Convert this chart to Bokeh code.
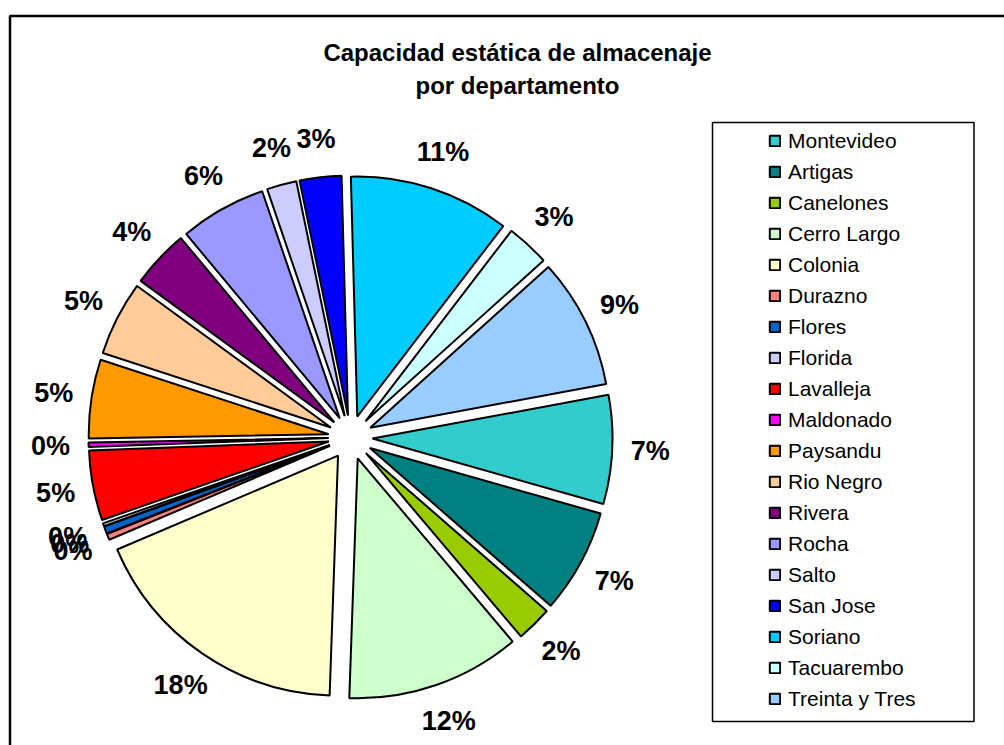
import numpy as np
from bokeh.plotting import figure
from bokeh.models import ColumnDataSource, Range1d, Legend, LegendItem, BoxAnnotation
from bokeh.core.properties import value
from bokeh.embed import file_html
from bokeh.resources import INLINE

TITLE_LINES = ["Capacidad estática de almacenaje", "por departamento"]

departments = ["Montevideo", "Artigas", "Canelones", "Cerro Largo", "Colonia",
               "Durazno", "Flores", "Florida", "Lavalleja", "Maldonado",
               "Paysandu", "Rio Negro", "Rivera", "Rocha", "Salto",
               "San Jose", "Soriano", "Tacuarembo", "Treinta y Tres"]

# share of static storage capacity (%)
shares = [7.3, 7.0, 2.4, 11.7, 18.0,
          0.4, 0.49, 0.2, 4.7, 0.3,
          5.3, 5.0, 3.9, 5.8, 2.0,
          2.8, 10.8, 2.9, 8.75]

colors = ["#33CCCC", "#008080", "#99CC00", "#CCFFCC", "#FFFFCC",
          "#FF8080", "#0066CC", "#CCCCFF", "#FF0000", "#FF00FF",
          "#FF9900", "#FFCC99", "#800080", "#9999FF", "#CCCCFF",
          "#0000FF", "#00CCFF", "#CCFFFF", "#99CCFF"]

FONT = "Liberation Sans"
W, H = 1004, 745

p = figure(width=W, height=H, x_range=Range1d(0, W), y_range=Range1d(0, H),
           output_backend="svg", toolbar_location=None, min_border=0)
p.axis.visible = False
p.grid.visible = False
p.outline_line_color = None
p.background_fill_color = "white"
p.border_fill_color = "white"

# geometry
cx, cy = 350, 308
R = 240
explode = 22
label_r = 300
start_deg = -10.5  # screen angle (clockwise from east) of first slice edge

v = np.array(shares, dtype=float)
frac = v / v.sum()
cum = np.concatenate([[0.0], np.cumsum(frac)]) * 360.0
a0 = start_deg + cum[:-1]
a1 = start_deg + cum[1:]
mid = (a0 + a1) / 2.0

m_start = np.radians(-a1)
m_end = np.radians(-a0)
m_mid = np.radians(-mid)

src = ColumnDataSource(dict(
    x=cx + explode * np.cos(m_mid),
    y=cy + explode * np.sin(m_mid),
    start=m_start, end=m_end,
    color=colors, name=departments,
    lx=cx + label_r * np.cos(m_mid),
    ly=cy + label_r * np.sin(m_mid),
    lab=["%d%%" % int(round(f * 100)) for f in frac],
))

wr = p.wedge(x="x", y="y", radius=R, start_angle="start", end_angle="end",
             direction="anticlock", fill_color="color", line_color="black",
             line_width=2, source=src)

p.text(x="lx", y="ly", text="lab", source=src, text_align="center",
       text_baseline="middle", text_font=value(FONT), text_font_style="bold",
       text_font_size="27px", text_color="black")

# title
tsrc = ColumnDataSource(dict(x=[517, 517], y=[693, 660], t=TITLE_LINES))
p.text(x="x", y="y", text="t", source=tsrc, text_align="center",
       text_baseline="middle", text_font=value(FONT), text_font_style="bold",
       text_font_size="24px", text_color="black")

# outer chart border (continues beyond the visible area)
p.add_layout(BoxAnnotation(left=9.5, right=1200, top=729.5, bottom=-200,
                           fill_alpha=0, line_color="black", line_alpha=1,
                           line_width=2.5))

# legend box
p.add_layout(BoxAnnotation(left=712, right=973.5, top=623, bottom=24,
                           fill_color="white", fill_alpha=1,
                           line_color="black", line_alpha=1,
                           line_width=1.5, level="underlay"))

items = [LegendItem(label=n, renderers=[wr], index=i) for i, n in enumerate(departments)]
legend = Legend(items=items, location=(768, 34), border_line_color=None,
                background_fill_alpha=0, padding=0, spacing=6, margin=0,
                label_height=25, glyph_height=13, glyph_width=13,
                label_standoff=7, label_text_font=FONT,
                label_text_font_size="21px", label_text_color="black")
p.add_layout(legend)

open("out.html", "w").write(file_html(p, INLINE))
